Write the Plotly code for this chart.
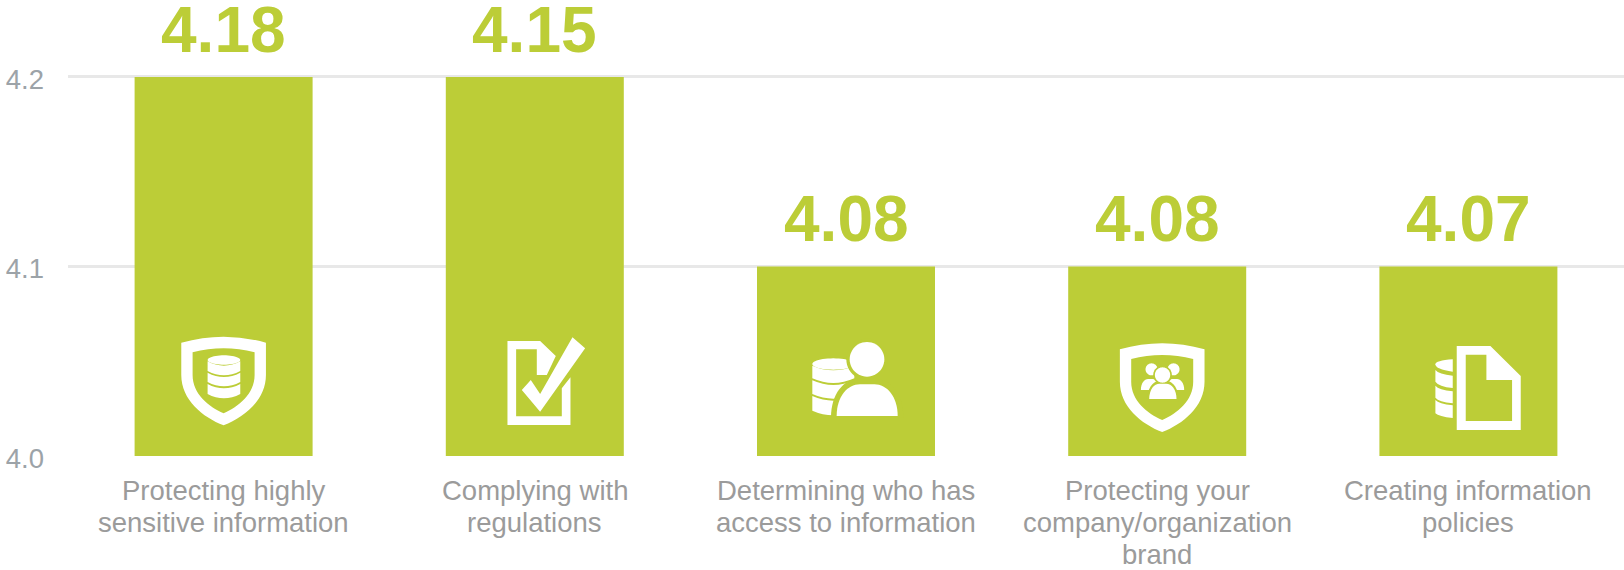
import math
import plotly.graph_objects as go

categories = [["Protecting highly", "sensitive information"], ["Complying with", "regulations"],
              ["Determining who has", "access to information"], ["Protecting your", "company/organization", "brand"],
              ["Creating information", "policies"]]
bar_heights = [4.2, 4.2, 4.1, 4.1, 4.1]
value_labels = ["4.18", "4.15", "4.08", "4.08", "4.07"]
y_ticks = [4.0, 4.1, 4.2]
y_tick_labels = ["4.0", "4.1", "4.2"]

GREEN = "#BCCD37"
WHITE = "#FFFFFF"
x_pos = list(range(len(categories)))


def ell(cx, cy, rx, ry, n=48):
    pts = [(cx + rx * math.cos(2 * math.pi * k / n), cy + ry * math.sin(2 * math.pi * k / n)) for k in range(n)]
    return "M" + " L".join(f"{x},{y}" for x, y in pts) + " Z"


def db_bands(cx, rx, ry, edges):
    d = []
    for top, bot in edges:
        d.append(f"M{cx-rx},{top} Q{cx},{top+2*ry} {cx+rx},{top} L{cx+rx},{bot} Q{cx},{bot+2*ry} {cx-rx},{bot} Z")
    return " ".join(d)


def shield(cx, o):
    return (f"M{cx-127},{o+68} Q{cx},{o+32} {cx+127},{o+68} L{cx+127},{o+165} C{cx+127},{o+240} {cx+62},{o+292} {cx},{o+316} "
            f"C{cx-62},{o+292} {cx-127},{o+240} {cx-127},{o+165} Z "
            f"M{cx-93},{o+97} Q{cx},{o+73} {cx+93},{o+97} L{cx+93},{o+165} C{cx+93},{o+222} {cx+45},{o+260} {cx},{o+280} "
            f"C{cx-45},{o+260} {cx-93},{o+222} {cx-93},{o+165} Z")


def dome(x0, x1, top, bottom):
    w = x1 - x0
    return (f"M{x0},{bottom} C{x0},{bottom-(bottom-top)*0.62} {x0+w*0.18},{top} {x0+w*0.38},{top} "
            f"L{x0+w*0.62},{top} C{x0+w*0.82},{top} {x1},{bottom-(bottom-top)*0.62} {x1},{bottom} Z")


icons = [
    [(shield(252, 0), WHITE),
     (ell(253, 120, 49, 14), WHITE),
     (db_bands(253, 49, 13, [(124, 153), (158, 186), (192, 222)]), WHITE)],
    [("M1100,63 L1198,63 L1245,108 L1218,165 L1188,165 L1188,88 L1126,88 L1126,289 L1263,289 L1263,205 L1289,172 L1289,315 L1100,315 Z", WHITE),
     ("M1295,52 L1333,85 L1198,275 L1143,210 L1170,180 L1198,222 Z", WHITE)],
    [(ell(250, 132, 63, 17), WHITE),
     (db_bands(250, 63, 14, [(137, 175), (181, 222), (228, 272)]), WHITE),
     (ell(351, 118, 62, 62), GREEN),
     (dome(243, 460, 177, 292), GREEN),
     (ell(351, 118, 52, 52), WHITE),
     (dome(260, 443, 193, 288), WHITE)],
    [(shield(1239, 20), WHITE),
     (dome(1175, 1232, 177, 210), WHITE),
     (dome(1248, 1305, 177, 210), WHITE),
     (ell(1207, 148, 18, 18), WHITE),
     (ell(1273, 148, 18, 18), WHITE),
     (ell(1240, 165, 28, 28), GREEN),
     (dome(1193, 1289, 183, 245), GREEN),
     (ell(1240, 165, 23, 23), WHITE),
     (dome(1200, 1282, 191, 237), WHITE)],
    [("M769,78 L870,78 L961,168 L961,330 L769,330 Z M796,104 L858,104 L858,180 L935,180 L935,303 L796,303 Z", WHITE),
     ("M757,118 Q705,122 705,133 Q705,148 757,155 Z", WHITE),
     ("M705,150 Q715,163 757,167 L757,204 Q715,200 705,185 Z", WHITE),
     ("M705,197 Q715,210 757,214 L757,250 Q715,246 705,233 Z", WHITE),
     ("M705,240 Q715,252 757,256 L757,294 Q715,290 705,280 Z", WHITE)],
]
icon_centres = [252, 1182, 288, 1224, 804]


def to_anchor(path, cx):
    """Convert a 3x-crop path to pixel offsets from (bar centre, y=4.0); y points up."""
    out, is_x = [], True
    for tok in path.replace(",", " ").split():
        cmd = ""
        if tok[0].isalpha():
            cmd, tok = tok[0], tok[1:]
            is_x = True
            if not tok:
                out.append(cmd)
                continue
        v = float(tok)
        v = (v - cx) / 3 if is_x else (408 - v) / 3
        out.append(f"{cmd}{v:.2f}")
        is_x = not is_x
    return " ".join(out)


shapes = []
for i, parts in enumerate(icons):
    for path, colour in parts:
        shapes.append(dict(type="path", layer="above", xsizemode="pixel", ysizemode="pixel",
                           xref="x", yref="y", xanchor=x_pos[i], yanchor=y_ticks[0],
                           path=to_anchor(path, icon_centres[i]), fillcolor=colour,
                           line=dict(width=0), fillrule="evenodd"))

fig = go.Figure(go.Bar(x=x_pos, y=bar_heights, width=0.572, marker=dict(color=GREEN, line=dict(width=0)),
                       hoverinfo="skip"))

annotations = [dict(x=x, y=h, text=f"<b>{t}</b>", showarrow=False, xanchor="center", yanchor="bottom", yshift=9,
                    height=66, valign="bottom",
                    font=dict(family="Liberation Sans", size=64, color=GREEN))
               for x, h, t in zip(x_pos, bar_heights, value_labels)]
for x, lines in zip(x_pos, categories):
    for k, line in enumerate(lines):
        annotations.append(dict(x=x, y=y_ticks[0], text=line, showarrow=False, xanchor="center", yanchor="middle",
                                yshift=-34 - 32 * k,
                                font=dict(family="Liberation Sans", size=27.5, color="#9B9B9B")))

fig.update_layout(
    width=1624, height=570, margin=dict(l=68, r=0, t=0, b=114), autosize=False,
    paper_bgcolor="white", plot_bgcolor="white", showlegend=False,
    shapes=shapes, annotations=annotations,
    xaxis=dict(range=[-0.5, 4.5], tickmode="array", tickvals=x_pos, showticklabels=False,
               showgrid=False, zeroline=False, showline=False, ticks=""),
    yaxis=dict(range=[4.0, 4.2406], tickmode="array", tickvals=y_ticks, ticktext=y_tick_labels,
               showgrid=True, gridcolor="#E8E8E8", gridwidth=2.5, zeroline=False, showline=False, ticks="",
               ticklabelstandoff=23, ticklabelshift=2,
               tickfont=dict(family="Liberation Sans", size=27.5, color="#9CA3A8")),
)
fig.write_html("out.html", config=dict(displayModeBar=False),
               post_script="document.body.style.margin='0';document.documentElement.style.overflow='hidden';")
